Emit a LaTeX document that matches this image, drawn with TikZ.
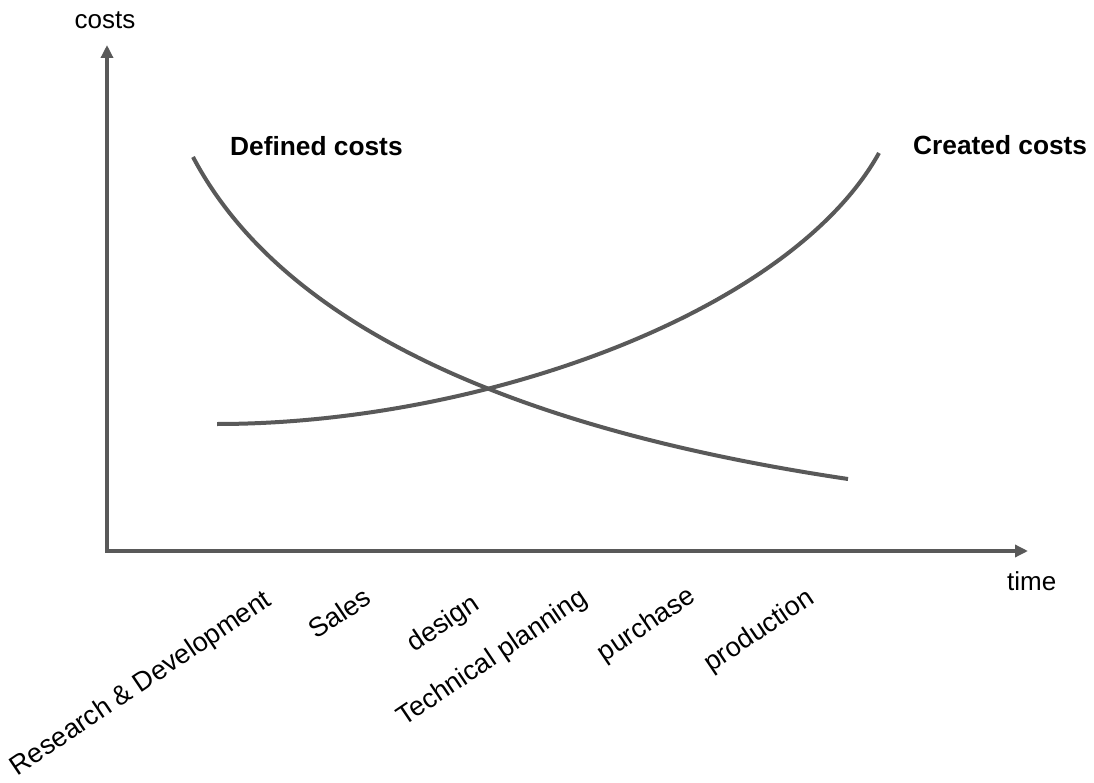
\documentclass[tikz,border=0pt]{standalone}
\usepackage{fontspec}
\setmainfont{Liberation Sans}
\usetikzlibrary{arrows.meta}
\definecolor{linegray}{HTML}{595959}
\begin{document}
\begin{tikzpicture}[x=1pt,y=-1pt,
  axisline/.style={draw=linegray,line width=4pt,{Triangle[length=13pt,width=12pt]}-{Triangle[length=13pt,width=12pt]}},
  curveline/.style={draw=linegray,line width=4pt},
  lbl/.style={inner sep=0pt,font=\fontsize{26}{30}\selectfont,text=black},
  blbl/.style={inner sep=0pt,font=\fontsize{26.3}{30}\selectfont\bfseries,text=black},
  phase/.style={inner sep=0pt,font=\fontsize{27}{30}\selectfont,text=black,anchor=base east,rotate=34}]
\useasboundingbox (0,0) rectangle (1094,783);
\fill[white] (0,0) rectangle (1094,783);
% axes
\coordinate (ytop) at (107,45);
\coordinate (O) at (107,551);
\coordinate (xend) at (1028,551);
\draw[axisline] (ytop) -- (O) -- (xend);
\node[lbl,anchor=base] (costs) at (105,29) {costs};
\node[lbl,anchor=base west] (time) at (1007,590) {time};
% curves
\coordinate (d0) at (193,157);
\coordinate (d1) at (848,479);
\coordinate (c0) at (217,424);
\coordinate (c1) at (879,153);
\draw[curveline] (d0) .. controls (300,360) and (600,442) .. (d1);
\draw[curveline] (c0) .. controls (480,424) and (790,313) .. (c1);
\node[blbl,anchor=base west] (defined) at (230,156) {Defined costs};
\node[blbl,anchor=base west] (created) at (913,155) {Created costs};
% phases
\node[phase] (rd) at (273,604) {Research \& Development};
\node[phase] (sales) at (373,602) {Sales};
\node[phase] (design) at (481,608) {design};
\node[phase] (tp) at (589,602) {Technical planning};
\node[phase] (purchase) at (697,600) {purchase};
\node[phase] (production) at (816,602) {production};
\end{tikzpicture}
\end{document}
